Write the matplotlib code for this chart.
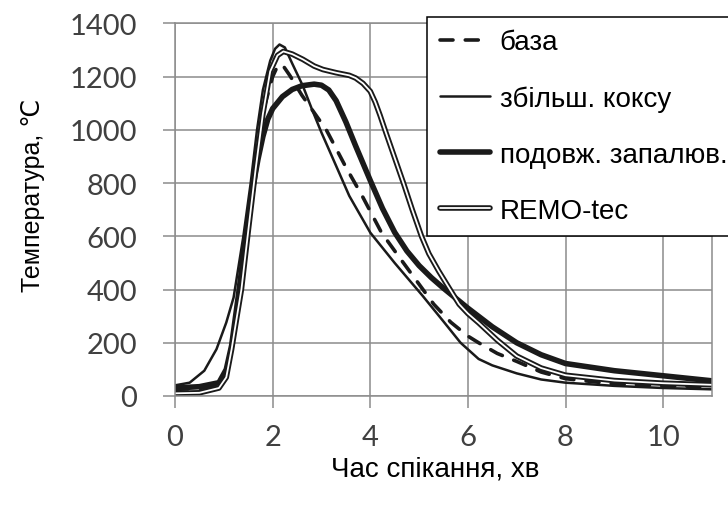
import matplotlib
matplotlib.use("Agg")
import matplotlib.pyplot as plt
import matplotlib.patheffects as pe

plt.rcParams['font.family'] = ['Liberation Sans', 'DejaVu Sans']

# база (dashed)
x_base = [0, 0.5, 0.9, 1.05, 1.16, 1.26, 1.4, 1.55, 1.7, 1.85, 2.0, 2.1, 2.2, 2.35, 2.6,
          2.85, 3.1, 3.5, 3.84, 4.23, 4.6, 5.0, 5.3, 5.65, 6.0, 6.22, 6.6, 7.0, 7.5, 8.0, 9.0, 10.0, 11.0]
y_base = [25, 28, 40, 80, 180, 290, 500, 720, 930, 1100, 1200, 1240, 1245, 1205, 1130,
          1065, 1000, 860, 750, 614, 520, 420, 345, 277, 225, 200, 160, 130, 90, 65, 45, 38, 35]

# збільш. коксу (thin)
x_coke = [0, 0.3, 0.6, 0.85, 1.05, 1.2, 1.4, 1.55, 1.68, 1.8, 1.95, 2.05, 2.14, 2.25, 2.4,
          2.62, 2.8, 3.0, 3.3, 3.57, 4.0, 4.5, 5.07, 5.5, 5.85, 6.22, 6.5, 7.0, 7.5, 8.0, 9.0, 10.0, 11.0]
y_coke = [40, 50, 95, 176, 276, 370, 600, 800, 1000, 1150, 1260, 1305, 1321, 1310, 1250,
          1165, 1080, 990, 865, 752, 614, 500, 377, 280, 200, 139, 115, 85, 62, 50, 38, 30, 25]

# подовж. запалюв. (thick)
x_ign = [0, 0.5, 0.9, 1.05, 1.16, 1.3, 1.45, 1.6, 1.7, 1.8, 1.9, 2.0, 2.2, 2.4, 2.6, 2.85,
         3.0, 3.15, 3.3, 3.5, 3.7, 4.0, 4.25, 4.5, 4.75, 5.0, 5.25, 5.5, 6.0, 6.5, 7.0, 7.5,
         8.0, 9.0, 10.0, 11.0]
y_ign = [30, 35, 50, 100, 190, 380, 600, 790, 890, 975, 1040, 1080, 1125, 1152, 1166, 1172,
         1168, 1150, 1110, 1030, 940, 810, 705, 615, 545, 490, 445, 405, 330, 260, 200, 155,
         122, 95, 76, 57]

# REMO-tec (double line)
x_remo = [0, 0.5, 0.9, 1.05, 1.16, 1.26, 1.36, 1.5, 1.65, 1.8, 1.95, 2.1, 2.22, 2.4, 2.62,
          2.85, 3.03, 3.3, 3.57, 3.7, 3.85, 4.0, 4.1, 4.2, 4.32, 4.5, 4.68, 4.86, 5.05, 5.2,
          5.4, 5.6, 5.82, 6.0, 6.22, 6.6, 7.0, 7.5, 8.0, 9.0, 10.0, 11.0]
y_remo = [10, 12, 30, 70, 176, 289, 400, 620, 850, 1060, 1220, 1280, 1295, 1285, 1265,
          1240, 1227, 1215, 1205, 1195, 1175, 1145, 1105, 1055, 990, 895, 800, 700, 600, 535,
          470, 410, 345, 310, 275, 210, 150, 105, 78, 58, 48, 42]

labels = ['база', 'збільш. коксу', 'подовж. запалюв.', 'REMO-tec']
x_ticks = [0, 2, 4, 6, 8, 10]
y_ticks = [0, 200, 400, 600, 800, 1000, 1200, 1400]

fig = plt.figure(figsize=(7.28, 5.1), dpi=100)
ax = fig.add_axes([0.2404, 0.2216, 0.7376, 0.7304])

k = '#1a1a1a'
ax.plot(x_base, y_base, color=k, lw=2.6, dashes=(3.6, 3.4), dash_capstyle='round', label=labels[0])
ax.plot(x_coke, y_coke, color=k, lw=1.8, solid_capstyle='round', label=labels[1])
ax.plot(x_ign, y_ign, color=k, lw=4.0, solid_capstyle='round', label=labels[2])
ax.plot(x_remo, y_remo, color='white', lw=1.3, solid_capstyle='round', label=labels[3],
        path_effects=[pe.Stroke(linewidth=4.0, foreground=k, capstyle='round'), pe.Normal()])

ax.set_xlim(0, 11)
ax.set_ylim(0, 1400)
ax.set_xticks(x_ticks)
ax.set_yticks(y_ticks)
ax.set_axisbelow(True)
ax.grid(True, color='#8c8c8c', lw=1.1)
for s in ax.spines.values():
    s.set_color('#8c8c8c')
    s.set_linewidth(1.1)
ax.tick_params(direction='out', length=8.4, width=1.1, color='#8c8c8c',
               labelsize=21, labelcolor='#404040')
ax.tick_params(axis='y', pad=19)
ax.tick_params(axis='x', pad=11.5)
for t in ax.get_xticklabels() + ax.get_yticklabels():
    t.set_fontfamily('Lato')

ax.set_xlabel('Час спікання, хв', fontsize=20, va='center')
ax.xaxis.set_label_coords(0.485, -0.196)
ax.set_ylabel('Температура, ℃', fontsize=18, va='center')
ax.yaxis.set_label_coords(-0.264, 0.542)

leg = ax.legend(loc='upper left', bbox_to_anchor=(427 / 728, 1 - 18 / 510),
                bbox_transform=fig.transFigure, fontsize=20, frameon=True, fancybox=False,
                edgecolor='black', framealpha=1, handlelength=1.8, handletextpad=0.36,
                labelspacing=1.08, borderpad=0.45, borderaxespad=0)
leg.get_frame().set_linewidth(1.1)

fig.savefig('out.png', dpi=100)
